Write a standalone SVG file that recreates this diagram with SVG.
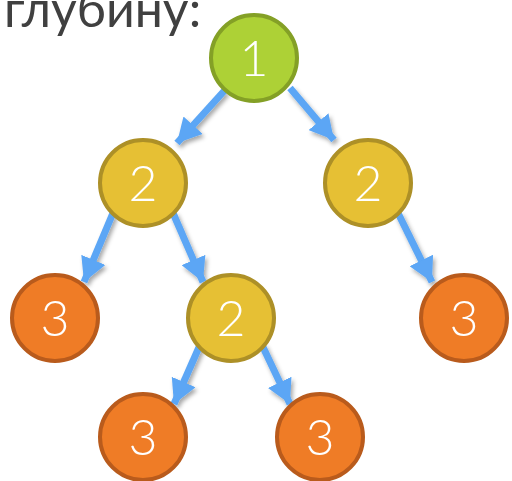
<svg xmlns="http://www.w3.org/2000/svg" width="512" height="481" viewBox="0 0 512 481">
<defs>
<style>
.g{fill:#add136;stroke:#84a026;stroke-width:4}
.y{fill:#e6c034;stroke:#ad9027;stroke-width:4}
.o{fill:#ef7c26;stroke:#b95b1c;stroke-width:4}
.t{font-family:Lato,"Open Sans",sans-serif;font-size:50px;fill:#fff;text-anchor:middle;font-weight:300}
.e{stroke:#5ba6f5;stroke-width:7;fill:none;marker-end:url(#ah)}
</style>
<marker id="ah" markerUnits="userSpaceOnUse" markerWidth="28" markerHeight="26" refX="24" refY="13" orient="auto">
<path d="M0,0 L24,13 L0,26 Z" fill="#5ba6f5"/>
</marker>
<filter id="sh" x="-30%" y="-30%" width="160%" height="160%">
<feDropShadow dx="2" dy="3" stdDeviation="2" flood-color="#000" flood-opacity="0.35"/>
</filter>
</defs>
<rect width="512" height="481" fill="#fff"/>
<text x="4" y="27" font-family="Lato,'DejaVu Sans',sans-serif" font-size="50" fill="#404040">глубину:</text>
<g id="connectors" filter="url(#sh)">
<line class="e" x1="225" y1="90" x2="177" y2="143"/>
<line class="e" x1="290" y1="88" x2="334" y2="140"/>
<line class="e" x1="113" y1="213" x2="84" y2="282"/>
<line class="e" x1="173" y1="213" x2="203" y2="282"/>
<line class="e" x1="398" y1="213" x2="432" y2="282"/>
<line class="e" x1="200" y1="345" x2="174" y2="404"/>
<line class="e" x1="262" y1="345" x2="290" y2="404"/>
</g>
<g id="n1"><circle class="g" cx="254" cy="58" r="43"/><text class="t" x="254" y="76">1</text></g>
<g id="n2a"><circle class="y" cx="143" cy="183" r="43"/><text class="t" x="143" y="201">2</text></g>
<g id="n2b"><circle class="y" cx="368" cy="183" r="43"/><text class="t" x="368" y="201">2</text></g>
<g id="n3a"><circle class="o" cx="55" cy="318" r="43"/><text class="t" x="55" y="336">3</text></g>
<g id="n2c"><circle class="y" cx="231" cy="318" r="43"/><text class="t" x="231" y="336">2</text></g>
<g id="n3b"><circle class="o" cx="464" cy="318" r="43"/><text class="t" x="464" y="336">3</text></g>
<g id="n3c"><circle class="o" cx="143" cy="437" r="43"/><text class="t" x="143" y="455">3</text></g>
<g id="n3d"><circle class="o" cx="320" cy="437" r="43"/><text class="t" x="320" y="455">3</text></g>
</svg>
